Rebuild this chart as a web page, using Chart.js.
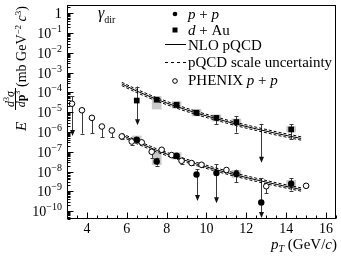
<!DOCTYPE html>
<html><head><meta charset="utf-8">
<script src="https://cdn.jsdelivr.net/npm/chart.js@4/dist/chart.umd.min.js"></script>
<style>html,body{margin:0;padding:0;background:#fff;overflow:hidden}</style>
</head><body>
<canvas id="c" width="341" height="256" style="width:341px;height:256px;display:block"></canvas>
<script>
// ---------------- data ----------------
const xTickLabels = [4, 6, 8, 10, 12, 14, 16];
const yTickExps = [0, -1, -2, -3, -4, -5, -6, -7, -8, -9, -10];

// this measurement, p+p (filled circles)
const ppPT    = [6.5, 7.5, 8.5, 9.5, 10.5, 11.5, 12.75, 14.25];
const ppY     = [4.1e-7, 3.2e-8, 6.3e-8, 7.1e-9, 8.5e-9, 7.6e-9, 2.7e-10, 2.4e-9];
const ppHi    = [5.0e-7, 5.0e-8, 8.0e-8, 1.35e-8, 2.4e-8, 1.26e-8, 4.6e-9, 4.5e-9];
const ppLo    = [3.3e-7, 2.0e-8, 5.0e-8, 3.2e-10, 2.5e-10, 2.95e-9, 4.5e-11, 1.1e-9];
const ppArrow = [false, false, false, true, true, false, true, false];

// d+Au (filled squares)
const dAuPT    = [6.5, 7.5, 8.5, 9.5, 10.5, 11.5, 12.75, 14.25];
const dAuY     = [3.9e-5, 4.3e-5, 2.4e-5, 9.5e-6, 5.2e-6, 3.2e-6, null, 1.35e-6];
const dAuHi    = [2.0e-4, 5.0e-5, 3.0e-5, 1.2e-5, 6.3e-6, 6.3e-6, 2.6e-6, 2.5e-6];
const dAuLo    = [2.2e-6, 3.6e-5, 1.9e-5, 7.5e-6, 2.5e-6, 9.3e-7, 2.8e-8, 4.5e-7];
const dAuArrow = [true, false, false, false, false, false, true, false];

// PHENIX p+p (open circles)
const phxPT    = [3.25, 3.75, 4.25, 4.75, 5.25, 5.75, 6.25, 6.75, 7.25, 7.75, 8.25, 8.75, 9.25, 9.75, 11.0, 13.0, 15.0];
const phxY     = [2.7e-5, 1.26e-5, 5.2e-6, 1.9e-6, 1.2e-6, 6.0e-7, 3.3e-7, 3.0e-7, 1.0e-7, 1.26e-7, 6.8e-8, 3.5e-8, 2.7e-8, 2.2e-8, 1.2e-8, 1.8e-9, 1.9e-9];
const phxHi    = [6.3e-5, 1.6e-5, 6.5e-6, 2.3e-6, 1.5e-6, 7.0e-7, 3.9e-7, 3.5e-7, 1.2e-7, 1.5e-7, 8.0e-8, 4.2e-8, 3.2e-8, 2.6e-8, 1.4e-8, 2.2e-9, 2.2e-9];
const phxLo    = [6.3e-7, 8.3e-7, 8.9e-7, 5.6e-7, 5.6e-7, 4.5e-7, 2.3e-7, 2.5e-7, 5.0e-8, 1.0e-7, 5.5e-8, 2.3e-8, 2.2e-8, 1.8e-8, 1.0e-8, 8.0e-10, 1.6e-9];
const phxArrow = [true, false, false, false, false, false, false, false, false, false, false, false, false, false, false, false, false];

// systematic boxes
const ppBoxPT  = [6.5, 7.5, 8.5, 11.5, 14.25];
const ppBoxLo  = [2.6e-7, 2.2e-8, 4.3e-8, 5.0e-9, 1.6e-9];
const ppBoxHi  = [6.3e-7, 1.0e-7, 9.0e-8, 1.15e-8, 3.6e-9];
const dAuBoxPT = [7.5, 8.5, 9.5, 10.5, 11.5, 14.25];
const dAuBoxLo = [1.45e-5, 1.6e-5, 6.5e-6, 3.6e-6, 2.2e-6, 1.0e-6];
const dAuBoxHi = [6.3e-5, 3.5e-5, 1.4e-5, 7.5e-6, 4.6e-6, 1.9e-6];

// NLO pQCD curves
const nloPT    = [5.75, 6.5, 7.5, 8.5, 9.5, 10.5, 11.5, 12.5, 13.5, 14.75];
const nloPP    = [7.1e-7, 3.1e-7, 1.17e-7, 5.1e-8, 2.4e-8, 1.23e-8, 6.6e-9, 3.8e-9, 2.24e-9, 1.23e-9];
const nloPPHi  = [8.6e-7, 3.75e-7, 1.41e-7, 6.2e-8, 2.9e-8, 1.49e-8, 8.0e-9, 4.6e-9, 2.7e-9, 1.49e-9];
const nloPPLo  = [5.9e-7, 2.55e-7, 9.7e-8, 4.2e-8, 2.0e-8, 1.02e-8, 5.5e-9, 3.15e-9, 1.85e-9, 1.02e-9];
const nloDAu   = [2.7e-4, 1.18e-4, 4.45e-5, 1.94e-5, 9.1e-6, 4.7e-6, 2.5e-6, 1.44e-6, 8.5e-7, 4.7e-7];
const nloDAuHi = [3.27e-4, 1.43e-4, 5.4e-5, 2.35e-5, 1.1e-5, 5.7e-6, 3.0e-6, 1.74e-6, 1.03e-6, 5.7e-7];
const nloDAuLo = [2.23e-4, 9.75e-5, 3.68e-5, 1.6e-5, 7.5e-6, 3.88e-6, 2.07e-6, 1.19e-6, 7.0e-7, 3.88e-7];

// ---------------- helpers ----------------
const SERIF = '"Liberation Serif", "DejaVu Serif", serif';
function fnt(size, style) { return (style ? style + ' ' : '') + size + 'px ' + SERIF; }
function runs(ctx, list, x, y, align) {
  let total = 0;
  for (const r of list) { ctx.font = fnt(r[1], r[2]); total += ctx.measureText(r[0]).width; }
  let cx = align === 'right' ? x - total : align === 'center' ? x - total / 2 : x;
  for (const r of list) {
    ctx.font = fnt(r[1], r[2]);
    ctx.fillText(r[0], cx, y + (r[3] || 0));
    cx += ctx.measureText(r[0]).width;
  }
  return total;
}
const pts = (xs, ys) => xs.map((x, i) => ({x: x, y: ys[i]})).filter(p => p.y !== null);
const boxes = (xs, lo, hi) => xs.map((x, i) => ({x: x, y: [lo[i], hi[i]]}));

const errSeries = [
  {pt: phxPT, hi: phxHi, lo: phxLo, arrow: phxArrow},
  {pt: ppPT, hi: ppHi, lo: ppLo, arrow: ppArrow},
  {pt: dAuPT, hi: dAuHi, lo: dAuLo, arrow: dAuArrow}
];

const BOX_DS = 9;

const decor = {
  id: 'decor',
  beforeDraw(chart) {
    const ctx = chart.ctx;
    ctx.save(); ctx.fillStyle = '#fff'; ctx.fillRect(0, 0, chart.width, chart.height); ctx.restore();
  },
  afterDatasetDraw(chart, args) {
    if (args.index !== BOX_DS) return;
    const ctx = chart.ctx, xs = chart.scales.x, ys = chart.scales.y;
    ctx.save();
    ctx.strokeStyle = '#3a3a3a'; ctx.fillStyle = '#111'; ctx.lineWidth = 1;
    for (const s of errSeries) {
      s.pt.forEach((p, i) => {
        const X = Math.round(xs.getPixelForValue(p)) + 0.5;
        const Yh = ys.getPixelForValue(s.hi[i]);
        const Yl = ys.getPixelForValue(s.lo[i]);
        ctx.beginPath();
        ctx.moveTo(X, Yh);
        ctx.lineTo(X, s.arrow[i] ? Yl - 5 : Yl);
        ctx.moveTo(X - 2, Math.round(Yh) + 0.5); ctx.lineTo(X + 2, Math.round(Yh) + 0.5);
        if (!s.arrow[i]) { ctx.moveTo(X - 2, Math.round(Yl) + 0.5); ctx.lineTo(X + 2, Math.round(Yl) + 0.5); }
        ctx.stroke();
        if (s.arrow[i]) {
          ctx.beginPath();
          ctx.moveTo(X - 2.5, Yl - 6); ctx.lineTo(X + 2.5, Yl - 6); ctx.lineTo(X, Yl); ctx.closePath();
          ctx.fill();
        }
      });
    }
    ctx.restore();
  },
  afterDraw(chart) {
    const ctx = chart.ctx, a = chart.chartArea, xs = chart.scales.x, ys = chart.scales.y;
    ctx.save();
    ctx.strokeStyle = '#000'; ctx.fillStyle = '#000'; ctx.lineWidth = 1;
    const L = Math.round(a.left) + 0.5, R = Math.round(a.right) - 0.5, T = Math.round(a.top) + 0.5, B = Math.round(a.bottom) - 0.5;
    ctx.strokeRect(L, T, R - L, B - T);
    // x ticks
    ctx.beginPath();
    for (let v = xs.min; v <= xs.max + 1e-9; v += 0.5) {
      const X = Math.round(xs.getPixelForValue(v)) + 0.5;
      const major = xTickLabels.includes(v);
      ctx.moveTo(X, B); ctx.lineTo(X, B - (major ? 6 : 3));
    }
    // y ticks
    for (let d = -11; d <= 0; d++) {
      for (let k = 1; k <= 9; k++) {
        const v = k * Math.pow(10, d);
        if (v < ys.min || v > ys.max) continue;
        const Y = Math.round(ys.getPixelForValue(v)) + 0.5;
        ctx.moveTo(L, Y); ctx.lineTo(L + (k === 1 ? 6 : 3), Y);
      }
    }
    ctx.stroke();
    ctx.textBaseline = 'alphabetic';
    // x labels
    for (const v of xTickLabels) {
      runs(ctx, [[String(v), 14]], xs.getPixelForValue(v), 233, 'center');
    }
    // y labels
    for (const e of yTickExps) {
      const Y = ys.getPixelForValue(Math.pow(10, e));
      if (e === 0) runs(ctx, [['1', 15]], 62, Y + 5, 'right');
      else runs(ctx, [['10', 14], ['\u2212' + (-e), 10, '', -6]], 62, Y + 5, 'right');
    }
    // x title
    runs(ctx, [['p', 15, 'italic'], ['T', 10, 'italic', 3], [' (GeV/', 15], ['c', 15, 'italic'], [')', 15]], 337, 249, 'right');
    // y title (rotated)
    ctx.save();
    ctx.translate(26, 0); ctx.rotate(-Math.PI / 2);
    runs(ctx, [['E', 15, 'italic']], -131, 0);
    runs(ctx, [['d', 12, 'italic'], ['3', 8, '', -5], ['\u03c3', 12, 'italic']], -99, -12.5, 'center');
    ctx.beginPath(); ctx.moveTo(-110, -10.5); ctx.lineTo(-88, -10.5); ctx.stroke();
    runs(ctx, [['d', 12, 'italic'], ['p', 12, 'bold'], ['3', 8, '', -5]], -99, -1, 'center');
    runs(ctx, [['(mb GeV', 14], ['\u22122', 9, '', -5], [' c', 14, 'italic'], ['3', 9, '', -5], [')', 14]], -87, 0);
    ctx.restore();
    // gamma_dir
    runs(ctx, [['\u03b3', 16, 'italic'], ['dir', 10, '', 5]], 98, 18);
    // legend
    const lx = 188, sx = 175, FS = 15;
    ctx.beginPath(); ctx.arc(sx, 14, 2.3, 0, Math.PI * 2); ctx.fill();
    runs(ctx, [['p', FS, 'italic'], [' + ', FS], ['p', FS, 'italic']], lx, 18.5);
    ctx.fillRect(sx - 2.5, 27.5, 5, 5);
    runs(ctx, [['d', FS, 'italic'], [' + Au', FS]], lx, 35);
    ctx.beginPath(); ctx.moveTo(165, 44.5); ctx.lineTo(186, 44.5); ctx.stroke();
    runs(ctx, [['NLO pQCD', FS]], lx, 50);
    ctx.save(); ctx.setLineDash([3, 3]);
    ctx.beginPath(); ctx.moveTo(165, 62.5); ctx.lineTo(186, 62.5); ctx.stroke(); ctx.restore();
    runs(ctx, [['pQCD scale uncertainty', FS]], lx, 67);
    ctx.beginPath(); ctx.arc(sx, 81, 2.3, 0, Math.PI * 2); ctx.stroke();
    runs(ctx, [['PHENIX ', FS], ['p', FS, 'italic'], [' + ', FS], ['p', FS, 'italic']], lx, 85);
    ctx.restore();
  }
};

const lineDs = (data, dashed) => ({
  type: 'line', data: data, showLine: true, borderColor: '#000', borderWidth: 1,
  borderDash: dashed ? [3, 2] : [], pointRadius: 0, fill: false, tension: 0, order: 1
});

new Chart(document.getElementById('c'), {
  type: 'scatter',
  data: {
    datasets: [
      {label: 'p+p', data: pts(ppPT, ppY), pointStyle: 'circle', pointRadius: 3.2, backgroundColor: '#000', borderColor: '#000', borderWidth: 0, order: 0},
      {label: 'd+Au', data: pts(dAuPT, dAuY), pointStyle: 'rect', pointRadius: 4, backgroundColor: '#000', borderColor: '#000', borderWidth: 0, order: 0},
      {label: 'PHENIX p+p', data: pts(phxPT, phxY), pointStyle: 'circle', pointRadius: 2.8, backgroundColor: '#fff', borderColor: '#000', borderWidth: 1, order: 0},
      Object.assign({label: 'NLO pp'}, lineDs(pts(nloPT, nloPP), false)),
      Object.assign({label: 'NLO dAu'}, lineDs(pts(nloPT, nloDAu), false)),
      Object.assign({label: 'scale pp hi'}, lineDs(pts(nloPT, nloPPHi), true)),
      Object.assign({label: 'scale pp lo'}, lineDs(pts(nloPT, nloPPLo), true)),
      Object.assign({label: 'scale dAu hi'}, lineDs(pts(nloPT, nloDAuHi), true)),
      Object.assign({label: 'scale dAu lo'}, lineDs(pts(nloPT, nloDAuLo), true)),
      {label: 'sys', type: 'bar', data: boxes(ppBoxPT, ppBoxLo, ppBoxHi).concat(boxes(dAuBoxPT, dAuBoxLo, dAuBoxHi)),
       backgroundColor: '#c9c9c9', borderWidth: 0, barThickness: 9, grouped: false, order: 10}
    ]
  },
  options: {
    responsive: false, animation: false, devicePixelRatio: 1,
    layout: {padding: {left: 67, right: 2, top: 2.5, bottom: 37}},
    plugins: {legend: {display: false}, tooltip: {enabled: false}},
    scales: {
      x: {type: 'linear', min: 3, max: 16.5, offset: false, grid: {offset: false}, display: false},
      y: {type: 'logarithmic', min: 3.98e-11, max: 2.66, display: false}
    }
  },
  plugins: [decor]
});
</script>
</body></html>
